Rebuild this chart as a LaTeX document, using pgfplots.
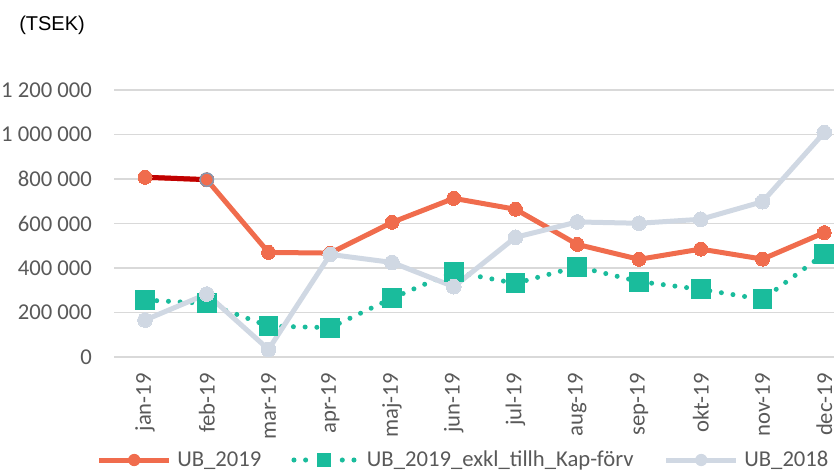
\documentclass[border=0pt]{standalone}
\usepackage{pgfplots}
\pgfplotsset{compat=1.18}
\usepackage{fontspec}
\setmainfont{Carlito}
\newfontfamily\arialfont{Liberation Sans}
\definecolor{orgC}{RGB}{240,108,77}
\definecolor{tealC}{RGB}{26,188,156}
\definecolor{grayC}{RGB}{208,216,227}
\definecolor{darkredC}{RGB}{192,0,0}
\definecolor{febC}{RGB}{132,151,176}
\definecolor{gridC}{RGB}{217,217,217}
\definecolor{tickgray}{RGB}{89,89,89}
\begin{document}
\begin{tikzpicture}
\useasboundingbox (0pt,0pt) rectangle (625.5pt,354pt);
\clip (0pt,0pt) rectangle (625.5pt,354pt);
\node[anchor=west, inner sep=0pt, font=\arialfont\fontsize{15}{18}\selectfont] at (14.25pt,335.25pt) {(TSEK)};
\begin{axis}[
  at={(85.6pt,86.25pt)}, anchor=south west,
  scale only axis, width=555.75pt, height=200.25pt,
  xmin=-0.5, xmax=11.5, ymin=0, ymax=1200000,
  clip=false,
  separate axis lines,
  axis x line*=bottom, axis y line*=left,
  y axis line style={draw=none},
  x axis line style={draw=gridC, line width=1.1pt},
  xtick={0,...,11},
  xticklabels={jan-19,feb-19,mar-19,apr-19,maj-19,jun-19,jul-19,aug-19,sep-19,okt-19,nov-19,dec-19},
  ytick={0,200000,400000,600000,800000,1000000,1200000},
  yticklabels={0,200 000,400 000,600 000,800 000,1 000 000,1 200 000},
  scaled y ticks=false,
  major tick length=0pt,
  ytick style={draw=none},
  xtick style={draw=none},
  extra x ticks={-0.5,0.5,1.5,2.5,3.5,4.5,5.5,6.5,7.5,8.5,9.5,10.5,11.5},
  extra x tick labels={},
  extra x tick style={tick align=outside, major tick length=5.25pt, xmajorgrids=false, tick style={draw=gridC, line width=1.1pt}},
  ymajorgrids, grid style={draw=gridC, line width=1.1pt},
  tick label style={font=\fontsize{17}{20}\selectfont, text=tickgray},
  yticklabel style={inner sep=0pt, anchor=east},
  yticklabel shift=16.5pt,
  xticklabel style={rotate=90, anchor=east, inner sep=0pt},
  xticklabel shift=12pt,
  legend columns=3,
  legend style={at={(-0.0235,-0.3858)}, anchor=west, draw=none, fill=none, inner sep=0pt, outer sep=0pt,
    font=\fontsize{17}{20}\selectfont, text=tickgray, nodes={inner sep=0pt, outer sep=0pt},
    /tikz/every odd column/.append style={column sep=4.2pt},
    /tikz/every even column/.append style={column sep=22.5pt}},
]
\addplot[draw=orgC, line width=3.75pt, mark=*, mark size=5.25pt, mark options={fill=orgC, draw=orgC, line width=0pt},
  legend image code/.code={\path[draw=orgC, line width=3.75pt, solid, fill=none] (0pt,0pt) -- (52.5pt,0pt); \path[fill=orgC, draw=none] (26.25pt,0pt) circle (4.6pt);}]
  coordinates {(0,808000) (1,797000) (2,470000) (3,467000) (4,605000) (5,713000) (6,664000) (7,506000) (8,439000) (9,485000) (10,440000) (11,559000)};
\addlegendentry{UB\_2019}
\addplot[draw=darkredC, line width=3.75pt, forget plot, shorten <=5pt, shorten >=5pt]
  coordinates {(0,808000) (1,797000)};
\addplot[only marks, forget plot, mark=*, mark size=5pt, mark options={fill=orgC, draw=febC, line width=1.1pt}]
  coordinates {(1,797000)};
\addplot[draw=tealC, line width=3.75pt, line cap=round, dash pattern=on 0pt off 8.8pt, mark=square*, mark size=7.1pt, mark options={solid, fill=tealC, draw=tealC, line width=0pt},
  legend image code/.code={\path[draw=none, fill=none] (-1.9pt,0pt) -- (50.5pt,0pt);
    \foreach \p in {0,8.75,36.25,45} {\path[fill=tealC, draw=none] (\p pt,0pt) circle (1.9pt);}
    \path[fill=tealC, draw=none] (17.5pt,-5pt) rectangle (27.5pt,5pt);}]
  coordinates {(0,256000) (1,241000) (2,139000) (3,132000) (4,264000) (5,383000) (6,331000) (7,406000) (8,339000) (9,304000) (10,259000) (11,463000)};
\addlegendentry{UB\_2019\_exkl\_tillh\_Kap-förv}
\addplot[draw=grayC, line width=3.75pt, mark=*, mark size=5.5pt, mark options={fill=grayC, draw=grayC, line width=0pt},
  legend image code/.code={\path[draw=grayC, line width=3.75pt, solid, fill=none] (0pt,0pt) -- (52.5pt,0pt); \path[fill=grayC, draw=none] (26.25pt,0pt) circle (4.6pt);}]
  coordinates {(0,166000) (1,283000) (2,34000) (3,461000) (4,425000) (5,316000) (6,538000) (7,607000) (8,601000) (9,619000) (10,698000) (11,1009000)};
\addlegendentry{UB\_2018}
\end{axis}
\end{tikzpicture}
\end{document}
